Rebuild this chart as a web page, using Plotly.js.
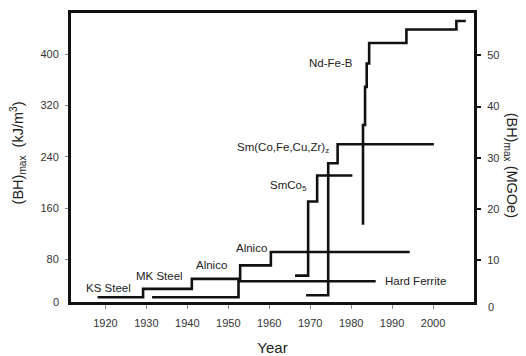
<!DOCTYPE html>
<html>
<head>
<meta charset="utf-8">
<script src="https://cdn.plot.ly/plotly-3.0.1.min.js"></script>
<style>
  html, body { margin: 0; padding: 0; background: #fff; }
  #chart { width: 526px; height: 356px; }
</style>
</head>
<body>
<div id="chart"></div>
<script>
// Step histories of (BH)max in kJ/m^3, each drawn as a staircase ('hv').
// Years are where each step begins; values are the level reached.
const steelAlnicoYears  = [1918.1, 1929.2, 1941.1, 1952.9, 1960.4, 1994.3];
const steelAlnicoValues = [21.4, 34.5, 50.0, 71.1, 91.9, 91.9];

const ferriteYears  = [1931.4, 1952.5, 1986.0];
const ferriteValues = [21.4, 46.3, 46.3];

const smCo5Years  = [1966.3, 1969.5, 1971.7, 1980.3];
const smCo5Values = [55.1, 170.5, 210.9, 210.9];

const sm2Co17Years  = [1969.0, 1974.4, 1976.7, 2000.2];
const sm2Co17Values = [24.5, 230.0, 259.6, 259.6];

const ndFeBYears  = [1982.9, 1982.9, 1983.4, 1983.8, 1984.4, 1993.5, 2005.7, 2008.0];
const ndFeBValues = [134.3, 289.6, 349.0, 385.4, 417.4, 438.2, 451.6, 451.6];

// Axis ticks
const yearTicks = [1920, 1930, 1940, 1950, 1960, 1970, 1980, 1990, 2000];
const kjTicks   = [80, 160, 240, 320, 400];
const mgoeTicks = [10, 20, 30, 40, 50];
const KJ_PER_MGOE = 7.958;

// Material labels
const labelTexts = ['KS Steel', 'MK Steel', 'Alnico', 'Alnico', 'Hard Ferrite',
                    'SmCo<sub>5</sub>', 'Sm(Co,Fe,Cu,Zr)<sub>z</sub>', 'Nd-Fe-B'];
const labelYears = [1920.7, 1933.2, 1945.8, 1955.6, 1995.7, 1964.6, 1963.4, 1975.2];
const labelKj    = [36.5, 54.0, 72.2, 98.1, 46.3, 194.9, 253.4, 385.4];

const yRange = [14, 464];
const lineStyle = { color: '#111', width: 2.6, shape: 'hv' };

function stairs(x, y) {
  return { x: x, y: y, type: 'scatter', mode: 'lines', line: lineStyle,
           hoverinfo: 'skip', showlegend: false };
}

const traces = [
  stairs(steelAlnicoYears, steelAlnicoValues),
  stairs(ferriteYears, ferriteValues),
  stairs(smCo5Years, smCo5Values),
  stairs(sm2Co17Years, sm2Co17Values),
  stairs(ndFeBYears, ndFeBValues),
  // invisible trace to bring up the right-hand MGOe axis
  { x: [yearTicks[0]], y: [mgoeTicks[0]], yaxis: 'y2', type: 'scatter', mode: 'markers',
    marker: { opacity: 0 }, hoverinfo: 'skip', showlegend: false }
];

const FONT = 'Liberation Sans, Arial, sans-serif';
const textFont = { family: FONT, size: 11.5, color: '#222' };

const annotations = labelTexts.map((t, i) => ({
  x: labelYears[i], y: labelKj[i], xref: 'x', yref: 'y', text: t,
  showarrow: false, font: textFont, xanchor: 'center', yanchor: 'middle'
}));

// axis titles and the zero labels at the lower corners
annotations.push(
  { xref: 'paper', yref: 'paper', x: -0.132, y: 0.517, textangle: -90,
    xanchor: 'center', yanchor: 'middle',
    text: '(BH)<sub>max</sub>  (kJ/m<sup>3</sup>)', showarrow: false,
    font: { family: FONT, size: 14.5, color: '#222' } },
  { xref: 'paper', yref: 'paper', x: 1.092, y: 0.475, textangle: 90,
    xanchor: 'center', yanchor: 'middle',
    text: '(BH)<sub>max</sub> (MGOe)', showarrow: false,
    font: { family: FONT, size: 14.5, color: '#222' } },
  { xref: 'paper', yref: 'paper', x: -0.038, y: 0.0, text: '0', showarrow: false,
    xanchor: 'center', yanchor: 'middle',
    font: { family: FONT, size: 11, color: '#333' } },
  { xref: 'paper', yref: 'paper', x: 1.043, y: -0.016, text: '0', showarrow: false,
    xanchor: 'center', yanchor: 'middle',
    font: { family: FONT, size: 11, color: '#333' } }
);

const tickFont = { family: FONT, size: 11, color: '#333' };

const layout = {
  width: 526, height: 356,
  margin: { l: 70.5, r: 51.5, t: 13.3, b: 53.5, pad: 0 },
  paper_bgcolor: '#fff', plot_bgcolor: '#fff',
  showlegend: false,
  xaxis: {
    range: [1911.6, 2010.0], tickvals: yearTicks, ticktext: yearTicks.map(String),
    showgrid: false, zeroline: false,
    showline: true, mirror: true, linecolor: '#111', linewidth: 3,
    ticks: 'outside', ticklen: 4, tickwidth: 1, tickcolor: '#888',
    tickfont: tickFont, ticklabelstandoff: 5,
    title: { text: 'Year', standoff: 21,
             font: { family: FONT, size: 15, color: '#222' } }
  },
  yaxis: {
    range: yRange, tickvals: kjTicks, ticktext: kjTicks.map(String),
    showgrid: false, zeroline: false,
    showline: true, mirror: true, linecolor: '#111', linewidth: 3,
    ticks: 'outside', ticklen: 3, tickwidth: 1, tickcolor: '#888',
    tickfont: tickFont, ticklabelstandoff: 4
  },
  yaxis2: {
    overlaying: 'y', side: 'right',
    range: yRange.map(v => v / KJ_PER_MGOE), tickvals: mgoeTicks, ticktext: mgoeTicks.map(String),
    showgrid: false, zeroline: false, showline: false,
    ticks: 'outside', ticklen: 6, tickwidth: 2, tickcolor: '#111',
    tickfont: tickFont, ticklabelstandoff: 4
  },
  annotations: annotations
};

Plotly.newPlot('chart', traces, layout, { staticPlot: true, displayModeBar: false });
</script>
</body>
</html>
